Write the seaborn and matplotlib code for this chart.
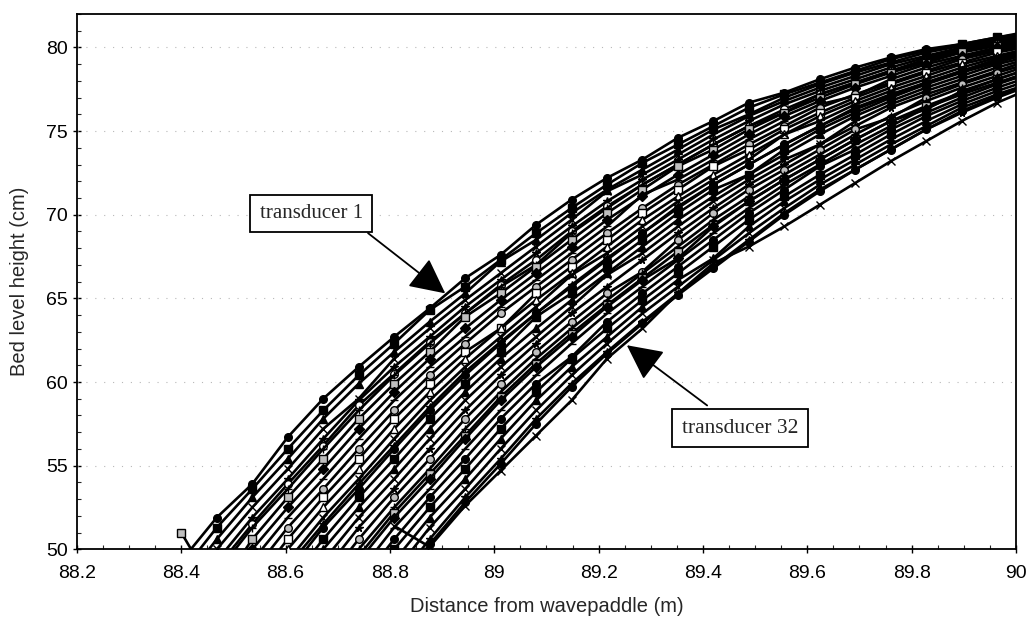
import numpy as np
import pandas as pd
import matplotlib
matplotlib.use("Agg")
import matplotlib.pyplot as plt
from matplotlib.ticker import MultipleLocator, FuncFormatter
import seaborn as sns

# Measurement stations along the flume (m)
distance = [88.4, 88.468, 88.536, 88.604, 88.672, 88.74, 88.808, 88.876, 88.944,
            89.012, 89.08, 89.148, 89.216, 89.284, 89.352, 89.42, 89.488, 89.556,
            89.624, 89.692, 89.76, 89.828, 89.896, 89.964, 90.032]

N = None
# Bed level (cm) recorded by each transducer at those stations
t01 = [49.3, 51.9, 53.9, 56.7, 59.0, 60.9, 62.7, 64.4, 66.2, 67.6, 69.4, 70.9, 72.2, 73.3, 74.6, 75.6, 76.7, 77.3, 78.1, 78.8, 79.4, 79.9, 80.2, 80.6, 81.0]
t02 = [48.6, 51.3, 53.6, 56.0, 58.3, 60.4, 62.3, 64.3, 65.7, 67.3, 68.9, 70.4, 71.8, 73.1, 74.2, 75.3, 76.4, 77.2, 77.9, 78.6, 79.3, 79.8, 80.2, 80.6, 80.9]
t03 = [47.9, 50.6, 53.1, 55.4, 57.8, 59.9, 61.8, 63.6, 65.3, 67.2, 68.5, 70.1, 71.5, 72.7, 73.9, 75.1, 76.0, 77.0, 77.8, 78.5, 79.1, 79.7, 80.1, 80.5, 80.9]
t04 = [47.2, 50.0, 52.5, 54.8, 57.2, 59.0, 61.4, 63.2, 64.9, 66.5, 68.1, 69.7, 71.4, 72.4, 73.6, 74.8, 75.9, 76.8, 77.6, 78.3, 79.0, 79.5, 80.0, 80.4, 80.8]
t05 = [46.5, 49.3, 51.9, 54.2, 56.6, 58.9, 60.9, 62.7, 64.5, 66.1, 67.7, 69.3, 70.8, 72.1, 73.3, 74.5, 75.6, 76.6, 77.4, 78.1, 78.8, 79.4, 79.9, 80.3, 80.7]
t06 = [46.1, 48.9, 51.5, 53.9, 56.2, 58.6, 60.5, 62.4, 64.1, 65.8, 67.3, 69.0, 70.5, 71.8, 73.0, 74.2, 75.3, 76.3, 77.2, 77.9, 78.6, 79.2, 79.8, 80.2, 80.6]
t07 = [45.8, 48.6, 51.3, 53.6, 56.0, 58.3, 60.4, 62.3, 64.1, 65.7, 67.0, 68.9, 70.4, 71.8, 73.0, 74.2, 75.3, 76.1, 77.2, 77.9, 78.6, 79.3, 79.8, 80.2, 80.6]
t08 = [51.0, 47.4, 50.6, 53.1, 55.4, 57.8, 59.9, 61.8, 63.9, 65.3, 66.9, 68.5, 70.1, 71.5, 72.9, 73.9, 75.1, 76.1, 77.0, 77.8, 78.5, 79.1, 79.7, 80.1, 80.5]
t09 = [44.3, 47.2, 50.0, 52.5, 54.8, 57.2, 59.4, 61.4, 63.2, 64.9, 66.5, 68.1, 69.7, 71.1, 72.4, 73.6, 74.8, 75.9, 76.8, 77.6, 78.3, 79.0, 79.5, 80.0, 80.4]
t10 = [43.6, 46.5, 49.3, 51.9, 54.2, 56.6, 58.9, 60.9, 62.7, 64.5, 66.1, 67.7, 69.3, 71.2, 72.1, 73.3, 74.5, 75.6, 76.6, 77.1, 78.1, 78.8, 79.4, 79.9, 80.3]
t11 = [N, 45.8, 48.6, 51.3, 53.6, 56.0, 58.3, 60.4, 62.3, 64.1, 65.7, 67.3, 68.9, 70.4, 71.8, 73.0, 74.2, 75.3, 76.4, 77.2, 77.9, 78.6, 79.3, 79.8, 80.2]
t12 = [N, 45.1, 47.9, 50.6, 53.1, 55.4, 57.8, 59.9, 61.8, 63.2, 65.3, 66.9, 68.5, 70.1, 71.5, 72.9, 73.9, 75.1, 76.1, 77.0, 77.8, 78.5, 79.1, 79.7, 80.1]
t13 = [N, 44.3, 47.2, 50.0, 52.5, 54.8, 57.2, 59.4, 61.4, 63.2, 64.9, 66.5, 68.1, 69.7, 71.1, 72.4, 73.6, 74.8, 75.9, 76.8, 77.6, 78.3, 79.0, 79.5, 80.0]
t14 = [N, 43.6, 46.5, 49.3, 51.9, 54.2, 56.6, 58.9, 60.9, 62.7, 64.5, 66.4, 67.7, 69.3, 70.8, 72.1, 73.3, 74.8, 75.6, 76.6, 77.4, 78.1, 78.8, 79.4, 79.9]
t15 = [N, 43.2, 46.1, 49.0, 51.5, 53.9, 56.2, 58.5, 60.6, 62.4, 64.1, 65.8, 67.4, 68.9, 70.5, 71.8, 73.0, 74.2, 75.3, 76.3, 77.1, 77.9, 78.6, 79.2, 79.7]
t16 = [N, N, 45.8, 48.6, 51.3, 53.6, 56.0, 58.3, 60.4, 62.3, 64.1, 65.7, 67.3, 68.9, 70.4, 71.8, 73.0, 74.2, 75.3, 76.4, 77.2, 77.9, 78.6, 79.3, 79.8]
t17 = [N, N, 45.1, 47.9, 50.6, 53.1, 55.4, 57.8, 59.9, 61.8, 63.9, 65.3, 66.9, 68.5, 70.1, 71.5, 72.4, 73.9, 75.1, 76.1, 77.0, 77.8, 78.5, 79.1, 79.7]
t18 = [N, N, 44.3, 47.2, 50.0, 52.5, 54.8, 57.2, 59.4, 61.4, 63.2, 64.9, 66.5, 68.1, 69.7, 71.1, 72.4, 73.6, 74.8, 75.9, 76.8, 77.6, 78.3, 79.0, 79.5]
t19 = [N, N, 43.6, 46.5, 49.3, 51.9, 54.2, 56.6, 58.9, 60.9, 62.7, 64.5, 66.4, 67.7, 69.3, 70.8, 72.1, 73.3, 74.2, 75.6, 76.6, 77.4, 78.1, 78.8, 79.4]
t20 = [N, N, N, 45.8, 48.6, 51.3, 53.6, 56.0, 58.3, 60.4, 62.3, 64.1, 65.7, 67.3, 68.9, 70.4, 71.8, 73.0, 74.2, 75.3, 76.4, 77.2, 77.9, 78.6, 79.3]
t21 = [N, N, N, 45.1, 47.9, 50.6, 53.1, 55.4, 57.8, 59.9, 61.8, 63.6, 65.3, 66.6, 68.5, 70.1, 71.5, 72.7, 73.9, 75.1, 75.8, 77.0, 77.8, 78.5, 79.1]
t22 = [N, N, N, 44.3, 47.2, 50.0, 52.5, 54.8, 57.2, 59.4, 61.4, 63.2, 64.9, 66.5, 68.1, 69.7, 71.1, 72.4, 73.6, 74.8, 75.9, 76.8, 77.6, 78.3, 79.0]
t23 = [N, N, N, 43.9, 46.8, 49.6, 52.2, 54.5, 56.8, 59.1, 61.1, 62.9, 64.6, 66.2, 67.8, 69.4, 70.8, 72.1, 73.3, 74.5, 75.6, 76.5, 77.3, 78.1, 78.8]
t24 = [N, N, N, 43.6, 46.5, 49.3, 51.9, 54.2, 56.6, 58.9, 60.9, 62.7, 64.5, 66.1, 67.4, 69.3, 70.8, 72.1, 73.3, 74.5, 75.6, 76.3, 77.4, 78.1, 78.8]
t25 = [N, N, N, N, 45.8, 48.6, 51.3, 53.6, 56.0, 58.3, 60.4, 62.3, 64.1, 65.7, 67.3, 68.9, 70.4, 71.8, 73.0, 74.2, 75.3, 76.4, 77.2, 77.9, 78.6]
t26 = [N, N, N, N, 45.1, 47.9, 50.6, 53.1, 55.4, 57.8, 59.9, 61.5, 63.6, 65.3, 66.9, 68.5, 70.1, 71.5, 72.9, 73.9, 75.1, 76.1, 77.0, 77.8, 78.5]
t27 = [N, N, N, N, 44.3, 47.2, 50.0, 52.5, 54.8, 57.2, 59.4, 61.4, 63.2, 64.9, 66.5, 68.1, 69.7, 71.1, 72.4, 73.6, 74.8, 75.9, 76.8, 77.6, 78.3]
t28 = [N, N, N, N, 43.6, 46.5, 49.3, 51.9, 54.2, 56.6, 58.9, 60.9, 62.7, 64.5, 66.1, 67.4, 69.3, 70.8, 72.1, 73.3, 74.5, 75.6, 76.6, 77.4, 78.1]
t29 = [N, N, N, N, N, 45.8, 48.6, 51.3, 53.6, 56.0, 58.3, 60.4, 62.3, 64.1, 65.7, 67.3, 68.9, 70.4, 71.8, 73.0, 74.2, 75.3, 76.4, 77.2, 77.9]
t30 = [N, N, N, N, N, 45.1, 47.9, 50.6, 53.1, 55.4, 57.8, 59.9, 61.8, 63.6, 65.3, 66.9, 68.5, 70.1, 71.5, 72.7, 73.9, 75.1, 76.1, 77.0, 77.8]
t31 = [N, N, N, N, N, 44.6, 47.5, 50.3, 52.8, 55.1, 57.5, 59.7, 61.7, 63.5, 65.2, 66.8, 68.4, 70.0, 71.4, 72.7, 73.9, 75.1, 76.2, 77.1, 77.9]
t32 = [N, N, N, N, N, N, 51.4, 50.15, 52.6, 54.7, 56.8, 58.9, 61.4, 63.2, 65.3, 67.1, 68.1, 69.3, 70.6, 71.9, 73.2, 74.4, 75.6, 76.7, 77.6]

transducers = [t01, t02, t03, t04, t05, t06, t07, t08, t09, t10, t11, t12, t13, t14, t15, t16,
               t17, t18, t19, t20, t21, t22, t23, t24, t25, t26, t27, t28, t29, t30, t31, t32]

# Marker shape and fill for each series (black-and-white print style)
marker_styles = [
    ("o", "black"), ("s", "black"), ("^", "black"), ("x", "black"), ("*", "black"),
    ("o", "white"), ("+", "black"), ("s", "0.75"), ("D", "black"), ("_", "black"),
    ("o", "0.75"), ("s", "white"), ("^", "white"), ("x", "black"), ("*", "black"),
    ("o", "black"), ("s", "black"), ("^", "black"), ("x", "black"), ("*", "black"),
    ("o", "0.75"), ("+", "black"), ("s", "0.75"), ("D", "black"), ("_", "black"),
    ("o", "black"), ("s", "black"), ("^", "black"), ("x", "black"), ("*", "black"),
    ("o", "black"), ("x", "black"),
]

sns.set_style("white")
plt.rcParams["font.family"] = ["Liberation Sans", "DejaVu Sans"]

fig = plt.figure(figsize=(10.3, 6.25), dpi=100)
ax = fig.add_axes([0.0747, 0.1211, 0.9117, 0.8565])

for idx, series in enumerate(transducers):
    df = pd.DataFrame({"distance": distance,
                       "level": pd.Series(series, dtype="float64")}).dropna()
    mk, fc = marker_styles[idx]
    sns.lineplot(data=df, x="distance", y="level", ax=ax, color="black",
                 linewidth=1.9, marker=mk, markersize=5.5,
                 markerfacecolor=fc, markeredgecolor="black",
                 markeredgewidth=1.0, estimator=None, sort=False, zorder=3)

ax.set_xlim(88.2, 90.0)
ax.set_ylim(50, 82)

ax.xaxis.set_major_locator(MultipleLocator(0.2))
ax.xaxis.set_minor_locator(MultipleLocator(0.05))
ax.yaxis.set_major_locator(MultipleLocator(5))
ax.yaxis.set_minor_locator(MultipleLocator(1))
ax.xaxis.set_major_formatter(FuncFormatter(lambda v, p: f"{v:g}"))
ax.yaxis.set_major_formatter(FuncFormatter(lambda v, p: f"{v:g}"))

ax.tick_params(axis="both", which="major", direction="inout", length=6, width=1,
               labelsize=14, colors="black")
ax.tick_params(axis="x", which="major", pad=8)
ax.tick_params(axis="both", which="minor", direction="in", length=3, width=0.8)
ax.tick_params(bottom=True, left=True, which="both")

# Faint dotted horizontal gridlines
for yv in [55, 60, 65, 70, 75, 80]:
    ax.axhline(yv, color="0.72", linestyle=(0, (1, 7)), linewidth=0.8, zorder=1)

for side in ["left", "bottom", "top", "right"]:
    ax.spines[side].set_color("black")
    ax.spines[side].set_linewidth(1.3)
    ax.spines[side].set_visible(True)

ax.set_xlabel("Distance from wavepaddle (m)", fontsize=14.5, labelpad=11)
ax.set_ylabel("Bed level height (cm)", fontsize=14.5, labelpad=12)

# Call-outs naming the first and last transducers
box = dict(boxstyle="square,pad=0.45", facecolor="white", edgecolor="black", linewidth=1.3)
arrow = dict(arrowstyle="-|>,head_length=1.1,head_width=0.55", color="black",
             linewidth=1.3, mutation_scale=20, shrinkA=0, shrinkB=0)

ax.annotate("", xy=(88.906, 65.3), xytext=(88.758, 68.9), arrowprops=arrow, zorder=6)
ax.text(88.649, 70.08, "transducer 1", ha="center", va="center", fontsize=15,
        family=["Liberation Serif", "DejaVu Serif"], bbox=box, zorder=7)

ax.annotate("", xy=(89.254, 62.2), xytext=(89.408, 58.6), arrowprops=arrow, zorder=6)
ax.text(89.471, 57.24, "transducer 32", ha="center", va="center", fontsize=15.5,
        family=["Liberation Serif", "DejaVu Serif"], bbox=box, zorder=7)

fig.savefig("out.png", dpi=100, facecolor="white")
